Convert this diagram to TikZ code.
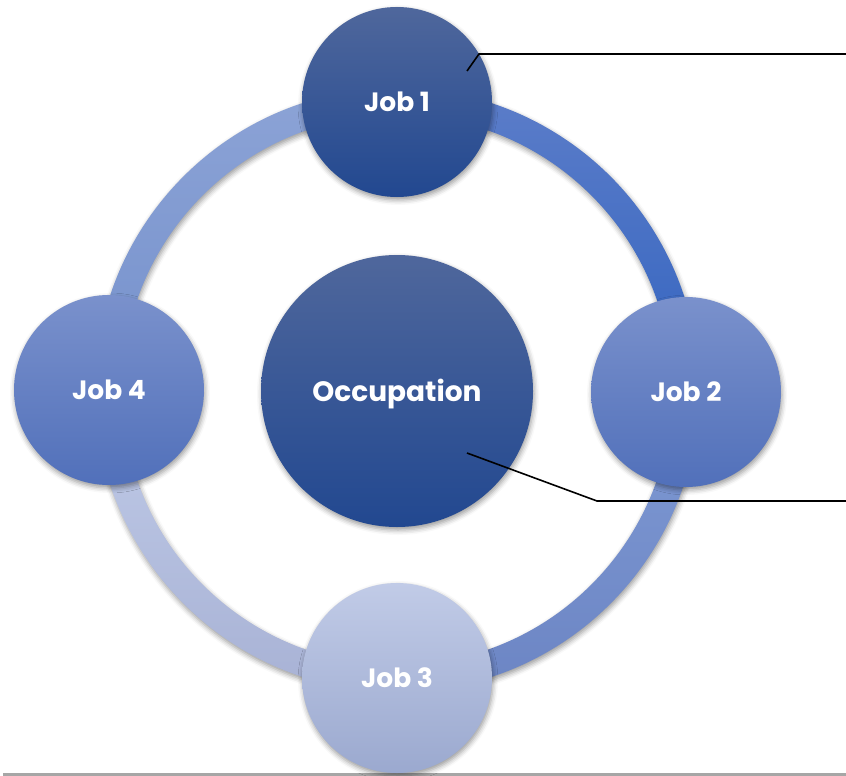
\documentclass[tikz,border=0pt]{standalone}
\usepackage{fontspec}
\setmainfont{Poppins}
\usetikzlibrary{shadows.blur}
\definecolor{deepTop}{HTML}{4F679C}
\definecolor{deepBot}{HTML}{224890}
\definecolor{midTop}{HTML}{7A91CC}
\definecolor{midBot}{HTML}{5170BA}
\definecolor{paleTop}{HTML}{C1CBE7}
\definecolor{paleBot}{HTML}{9BA9CF}
\definecolor{ringTLtop}{HTML}{8CA3D6}
\definecolor{ringTLbot}{HTML}{7591CC}
\definecolor{ringTRtop}{HTML}{5C7DC9}
\definecolor{ringTRbot}{HTML}{3364C0}
\definecolor{ringBRtop}{HTML}{7F9AD4}
\definecolor{ringBRbot}{HTML}{6C85C4}
\definecolor{ringBLtop}{HTML}{C0CBE8}
\definecolor{ringBLbot}{HTML}{A8B2D5}
\begin{document}
\begin{tikzpicture}[x=1pt, y=-1pt,
	softshadow/.style = {blur shadow={shadow xshift=1pt, shadow yshift=-3pt, shadow blur radius=5pt, shadow opacity=40}},
	job/.style = {circle, minimum size=190pt, inner sep=0pt, text=white, softshadow,
		font=\bfseries\fontsize{26.5}{27}\selectfont, text height=19pt, text depth=0pt},
	core/.style = {job, minimum size=272pt, font=\bfseries\fontsize{28}{28}\selectfont, text height=20pt},
	callout/.style = {draw=black, line width=1.6pt}]
	\useasboundingbox (0,0) rectangle (846,776);
	\coordinate (c) at (397,390);

	% ring pieces between the jobs
	\foreach \a/\part in {180/TL, 270/TR, 0/BR, 90/BL} {
		\shade[softshadow, top color=ring\part top, bottom color=ring\part bot]
			([shift={(\a:302)}]c) arc[start angle=\a, end angle=\a+90, radius=302]
			-- ([shift={(\a+90:275)}]c) arc[start angle=\a+90, end angle=\a, radius=275] -- cycle;
	}

	\draw[draw=black!35, line width=3pt] (3,774) coordinate (g1) -- (846,774) coordinate (g2);

	\node[core, top color=deepTop, bottom color=deepBot] (occ) at (397,391) {Occupation};
	\node[job, top color=deepTop, bottom color=deepBot] (j1) at (397,102) {Job 1};
	\node[job, top color=midTop, bottom color=midBot] (j2) at (686,392) {Job 2};
	\node[job, top color=paleTop, bottom color=paleBot] (j3) at (397,678) {Job 3};
	\node[job, top color=midTop, bottom color=midBot] (j4) at (109,390) {Job 4};

	% callout lines
	\coordinate (a1) at (467,71);
	\coordinate (a2) at (479,54);
	\coordinate (a3) at (846,54);
	\coordinate (b1) at (467,453);
	\coordinate (b2) at (597,501);
	\coordinate (b3) at (846,501);
	\draw[callout] (a1) -- (a2) -- (a3);
	\draw[callout] (b1) -- (b2) -- (b3);
\end{tikzpicture}
\end{document}
